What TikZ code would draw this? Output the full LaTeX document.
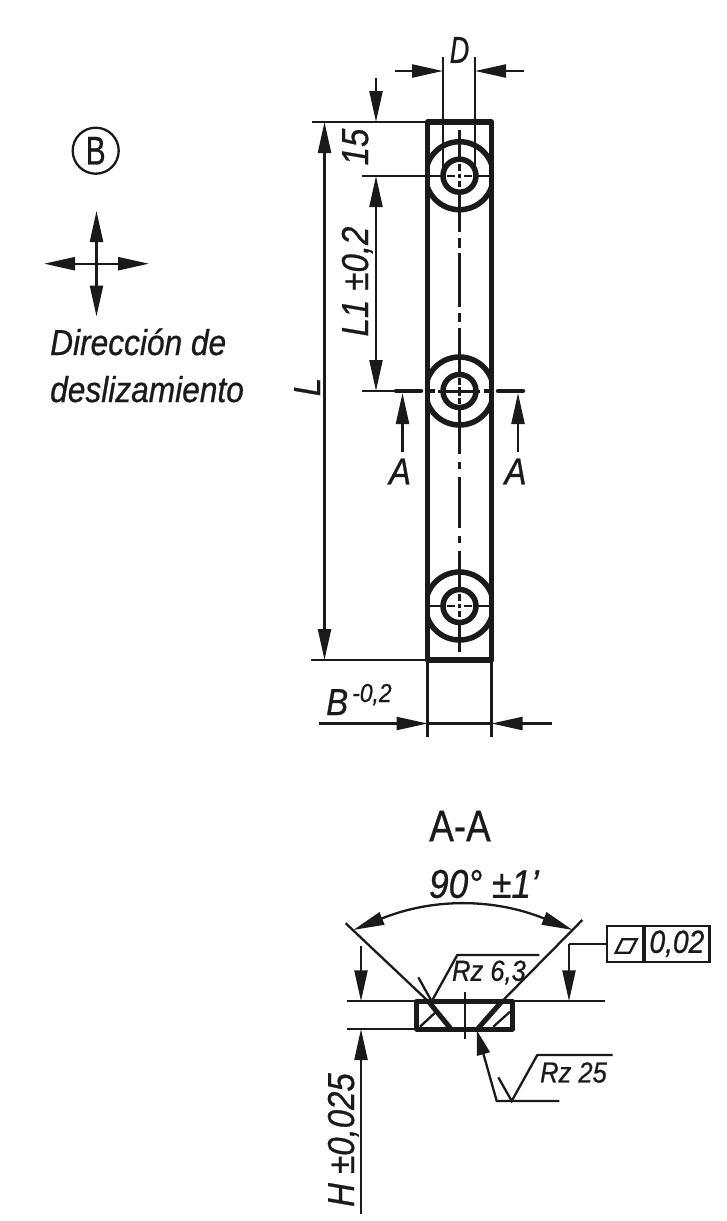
\documentclass[tikz,border=0pt]{standalone}
\usepackage{fontspec}
\setmainfont{Liberation Sans}[FakeStretch=0.88,RawFeature={embolden=0.7}]
\usetikzlibrary{arrows.meta}
\definecolor{ink}{HTML}{1A1A1A}
\tikzset{
  thinln/.style={draw=ink,line width=2.3pt},
  thickln/.style={draw=ink,line width=5.5pt},
  dimln/.style={thinln,-{Triangle[length=31pt,width=13pt]}},
  dimboth/.style={thinln,{Triangle[length=31pt,width=13pt]}-{Triangle[length=31pt,width=13pt]}},
  lbl/.style={inner sep=0pt,text=ink,font=\fontsize{37.5}{37.5}\selectfont\itshape},
  lbldir/.style={inner sep=0pt,text=ink,font=\fontsize{36}{36}\selectfont\itshape},
  lblsm/.style={inner sep=0pt,text=ink,font=\fontsize{29}{29}\selectfont\itshape},
  upr/.style={inner sep=0pt,text=ink,font=\fontsize{40}{40}\selectfont}
}
\begin{document}
\begin{tikzpicture}[x=1pt,y=-1pt]
  \useasboundingbox (0,0) rectangle (727,1221);
  % slide direction
  \node[circle,thinln,minimum size=46pt,inner sep=0pt] (bmark) at (95.7,150.7) {};
  \node[upr,xscale=0.85] (btext) at (95.7,150.7) {B};
  \coordinate (cross) at (96.5,263.7);
  \coordinate (crossn) at (96.5,211);
  \coordinate (crosss) at (96.5,316.5);
  \coordinate (crossw) at (44,263.7);
  \coordinate (crosse) at (149,263.7);
  \draw[dimln] (cross) to (crossn);
  \draw[dimln] (cross) to (crosss);
  \draw[dimln] (cross) to (crossw);
  \draw[dimln] (cross) to (crosse);
  \node[lbldir,anchor=base west] (dir1) at (50,355) {Dirección de};
  \node[lbldir,anchor=base west] (dir2) at (50,402) {deslizamiento};

  % plate
  \coordinate (c1) at (459.5,175.7);
  \coordinate (c2) at (459.5,391);
  \coordinate (c3) at (459.5,606);
  \begin{scope}
    \clip (427.5,122) rectangle (491.5,660);
    \draw[thickln] (c1) circle (34);
    \draw[thickln] (c2) circle (34);
    \draw[thickln] (c3) circle (34);
  \end{scope}
  \draw[thickln] (c1) circle (16.5);
  \draw[thickln] (c2) circle (16.5);
  \draw[thickln] (c3) circle (16.5);
  \draw[thickln,line join=round] (427.5,122) rectangle (491.5,660);

  % centre lines
  \draw[thinln] (459.5,130) to (459.5,158);
  \draw[thinln] (459.5,193) to (459.5,232);
  \draw[thinln] (459.5,238) to (459.5,248);
  \draw[thinln] (459.5,253) to (459.5,307);
  \draw[thinln] (459.5,313) to (459.5,322);
  \draw[thinln] (459.5,328) to (459.5,374);
  \draw[thinln] (459.5,408) to (459.5,454);
  \draw[thinln] (459.5,462) to (459.5,469);
  \draw[thinln] (459.5,477) to (459.5,528);
  \draw[thinln] (459.5,536) to (459.5,543);
  \draw[thinln] (459.5,551) to (459.5,589);
  \draw[thinln] (459.5,623) to (459.5,652);
  \draw[thinln] (459.5,164) to (459.5,171);
  \draw[thinln] (459.5,174) to (459.5,178);
  \draw[thinln] (459.5,181) to (459.5,187);
  \draw[thinln] (459.5,378) to (459.5,385);
  \draw[thinln] (459.5,387) to (459.5,396);
  \draw[thinln] (459.5,398) to (459.5,404);
  \draw[thinln] (459.5,594) to (459.5,601);
  \draw[thinln] (459.5,604) to (459.5,608);
  \draw[thinln] (459.5,611) to (459.5,617);
  \draw[thinln] (362,175.7) to (443,175.7);
  \draw[thinln] (447,175.7) to (455,175.7);
  \draw[thinln] (458,175.7) to (461,175.7);
  \draw[thinln] (464,175.7) to (472,175.7);
  \draw[thinln] (476,175.7) to (491,175.7);
  \draw[thinln] (427,606) to (443,606);
  \draw[thinln] (447,606) to (455,606);
  \draw[thinln] (458,606) to (461,606);
  \draw[thinln] (464,606) to (472,606);
  \draw[thinln] (476,606) to (491,606);
  \draw[thinln,line width=3pt] (438,391) to (480,391);

  % section A-A marks
  \draw[thickln,line width=4.5pt,line cap=round] (396,391) to (421,391);
  \draw[thickln,line width=4.5pt,line cap=round] (498,391) to (523,391);
  \draw[thickln,line width=4pt] (425,391) to (435,391);
  \draw[thickln,line width=4pt] (484,391) to (494,391);
  \coordinate (secl) at (402.5,452);
  \coordinate (sect) at (402.5,393);
  \coordinate (secr) at (518,452);
  \coordinate (secs) at (518,393);
  \draw[dimln] (secl) to (sect);
  \draw[dimln] (secr) to (secs);
  \node[lbl] (al) at (400,471.5) {A};
  \node[lbl] (ar) at (515.5,471.5) {A};

  % dimensions of the plate
  \draw[thinln] (312,122) to (426,122);
  \draw[thinln] (311,660) to (426,660);
  \draw[thinln] (443,57) to (443,170);
  \draw[thinln] (475,57) to (475,170);
  \draw[thinln] (427.5,660) to (427.5,737);
  \draw[thinln] (491.5,660) to (491.5,737);
  \draw[dimln] (395,71) to (443,71);
  \draw[dimln] (524,71) to (475,71);
  \draw[dimln] (376,78) to (376,122);
  \draw[dimboth] (376,176) to (376,391);
  \draw[dimboth] (324.5,122) to (324.5,660);
  \draw[dimln] (319,723.5) to (427.5,723.5);
  \draw[dimln] (552,723.5) to (491.5,723.5);
  \draw[thinln] (427.5,723.5) to (491.5,723.5);
  \draw[thinln] (362,391) to (396,391);
  \node[lbl,xscale=0.82] (dlab) at (459.5,50) {D};
  \node[lbl,rotate=90,anchor=base] (l15) at (368,147) {15};
  \node[lbl,rotate=90,anchor=base] (l1lab) at (368,281.5) {L1 ±0,2};
  \node[lbl,rotate=90,anchor=base] (llab) at (320,387) {L};
  \node[lbl,anchor=base west] (blab) at (326,715) {B};
  \node[inner sep=0pt,text=ink,font=\fontsize{26}{26}\selectfont\itshape,anchor=base west] (btol) at (352,702) {-0,2};

  % section view
  \node[upr,font=\fontsize{44}{44}\selectfont,xscale=0.95] (aa) at (460,826) {A-A};
  \coordinate (vl) at (345.7,923.3);
  \coordinate (vlb) at (428.3,1001.3);
  \coordinate (vr) at (582.3,920);
  \coordinate (vrb) at (502,1001.3);
  \draw[thinln] (vl) to (vlb);
  \draw[thinln] (vr) to (vrb);
  \draw[thinln] (347.3,1001.3) to (605,1001.3);
  \draw[thinln] (347.3,1029) to (417,1029);
  \draw[thinln] (420,1026.7) to (438,1010);
  \draw[thinln] (493.3,1026.7) to (510,1011.7);
  \draw[thickln,line width=5pt] (vlb) to (451,1029);
  \draw[thickln,line width=5pt] (vrb) to (477.5,1029);
  \draw[thickln,line width=5pt,line join=round] (416.7,1001.3) rectangle (512.7,1029);
  \draw[thinln] (465,991.7) to (465,1039.3);
  \coordinate (angl) at (353.3,930);
  \coordinate (angr) at (572.7,930);
  \draw[dimboth] (angl) to[bend left=22] (angr);
  \node[lbl,font=\fontsize{40}{40}\selectfont\itshape] (anglab) at (484,884) {90° ±1'};
  \draw[dimln] (361,946) to (361,1001.3);
  \draw[dimln] (361,1214) to (361,1029);
  \node[lbl,rotate=90,anchor=base] (hlab) at (354,1140) {H ±0,025};

  % roughness
  \draw[thinln] (418.3,977.3) to (431.7,1001.3) to (457.3,955) to (539.3,955);
  \node[lblsm] (rz1) at (489,972.5) {Rz 6,3};
  \draw[thinln,{Triangle[length=25pt,width=13pt]}-] (476.7,1030) to (496.7,1101) to (559.3,1101);
  \draw[thinln] (498.3,1077.3) to (511.7,1101) to (537.3,1055) to (612.7,1055);
  \node[lblsm] (rz2) at (573.5,1072.5) {Rz 25};

  % flatness
  \node[thinln,minimum width=36pt,minimum height=36pt,inner sep=0pt] (flat) at (625.3,943.7) {};
  \node[thinln,minimum width=65pt,minimum height=36pt,inner sep=0pt,anchor=west,font=\fontsize{32}{32}\selectfont\itshape,text=ink,xshift=-1.2pt] (fval) at (flat.east) {0,02};
  \draw[thinln] (622.3,939.3) -- (636.7,939.3) -- (629.7,952.7) -- (615.7,952.7) -- cycle;
  \coordinate (flatc) at (569,943.7);
  \draw[thinln] (flat.west) to (flatc);
  \draw[dimln] (flatc) to (569,1001.3);
\end{tikzpicture}
\end{document}
